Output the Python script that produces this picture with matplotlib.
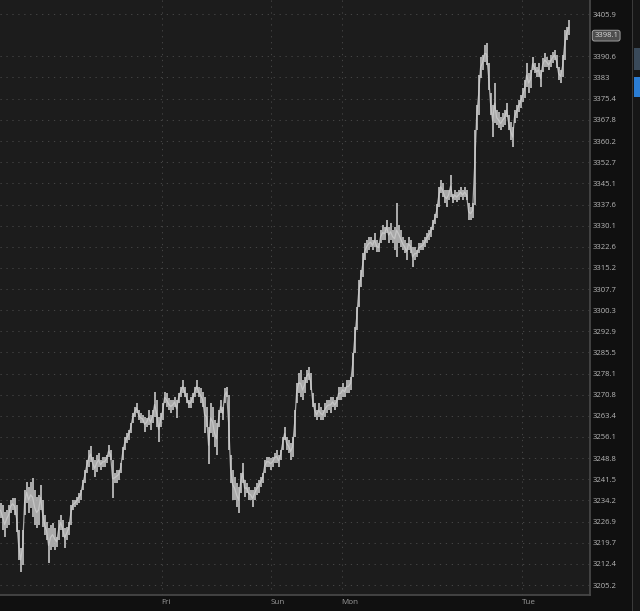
import numpy as np
import matplotlib
matplotlib.use('Agg')
import matplotlib.pyplot as plt
from matplotlib.patches import Rectangle
from matplotlib.ticker import NullLocator

plt.rcParams['font.family'] = ['Open Sans', 'DejaVu Sans']

# price bars (high / low), one every bar step
highs = [
    3233.3, 3232.6, 3230.2, 3230.9, 3232.6, 3234.4, 3235.1, 3235.1, 3232.6, 3224.0,
    3218.0, 3224.0, 3237.8, 3240.6, 3238.8, 3240.6, 3242.0, 3237.8, 3235.4, 3236.1,
    3239.5, 3234.4, 3229.2, 3226.8, 3224.7, 3225.7, 3226.5, 3224.7, 3221.6, 3227.5,
    3229.2, 3227.5, 3224.7, 3225.0, 3226.8, 3232.6, 3234.4, 3234.4, 3235.4, 3236.8,
    3237.8, 3241.3, 3244.8, 3248.2, 3251.6, 3252.9, 3249.2, 3248.2, 3249.9, 3250.6,
    3248.2, 3249.2, 3249.2, 3249.9, 3253.3, 3251.6, 3248.2, 3243.7, 3244.8, 3244.8,
    3247.2, 3252.6, 3256.1, 3257.3, 3258.6, 3261.0, 3264.4, 3266.5, 3267.9, 3265.4,
    3264.4, 3263.7, 3263.0, 3262.7, 3265.4, 3263.7, 3265.4, 3271.7, 3268.9, 3263.0,
    3264.4, 3267.9, 3271.7, 3271.4, 3269.6, 3268.9, 3268.9, 3270.0, 3268.9, 3271.4,
    3273.5, 3275.9, 3273.5, 3271.4, 3268.9, 3270.0, 3271.4, 3273.5, 3275.9, 3273.5,
    3273.1, 3271.7, 3270.0, 3266.5, 3259.6, 3267.9, 3266.5, 3262.0, 3261.0, 3265.4,
    3268.9, 3266.5, 3273.1, 3273.5, 3270.7, 3249.9, 3244.8, 3242.3, 3240.2, 3238.8,
    3243.7, 3247.2, 3241.3, 3240.2, 3238.8, 3237.8, 3237.8, 3238.8, 3240.2, 3241.3,
    3242.3, 3243.7, 3248.2, 3249.2, 3249.2, 3248.9, 3249.2, 3250.6, 3251.6, 3249.9,
    3251.6, 3256.1, 3259.6, 3256.1, 3255.1, 3254.0, 3256.1, 3265.4, 3274.9, 3278.3,
    3279.4, 3275.9, 3277.0, 3279.4, 3280.4, 3278.3, 3271.4, 3267.9, 3265.4, 3267.9,
    3266.5, 3265.4, 3267.9, 3268.9, 3268.9, 3270.0, 3270.0, 3268.9, 3270.0, 3273.5,
    3273.5, 3274.9, 3273.5, 3275.9, 3275.9, 3277.0, 3285.3, 3294.4, 3301.3, 3310.9,
    3314.4, 3320.4, 3323.9, 3324.9, 3326.0, 3326.0, 3324.9, 3327.4, 3324.9, 3323.9,
    3328.5, 3330.3, 3329.6, 3332.0, 3329.6, 3331.0, 3328.5, 3329.6, 3338.1, 3330.3,
    3328.5, 3326.0, 3324.9, 3323.9, 3326.0, 3324.9, 3322.5, 3322.5, 3321.4, 3323.9,
    3323.9, 3324.9, 3326.0, 3327.4, 3328.5, 3329.6, 3332.0, 3334.2, 3337.8, 3343.8,
    3346.3, 3345.2, 3342.7, 3342.7, 3342.7, 3348.1, 3341.4, 3342.7, 3342.0, 3342.7,
    3343.8, 3342.7, 3343.8, 3342.7, 3338.1, 3336.7, 3338.1, 3364.1, 3373.1, 3383.9,
    3390.4, 3391.1, 3394.7, 3395.4, 3388.2, 3377.4, 3373.1, 3381.0, 3371.3, 3370.6,
    3368.8, 3370.2, 3371.3, 3373.8, 3369.5, 3367.0, 3365.2, 3371.3, 3373.1, 3374.9,
    3376.7, 3379.2, 3382.1, 3388.2, 3384.6, 3385.7, 3390.4, 3388.2, 3386.8, 3388.2,
    3385.7, 3390.0, 3391.8, 3390.4, 3389.3, 3391.1, 3392.2, 3392.9, 3391.1, 3386.8,
    3385.7, 3391.1, 3400.1, 3401.2, 3403.7,
]
lows = [
    3228.2, 3224.0, 3221.6, 3224.7, 3225.7, 3229.9, 3230.9, 3229.2, 3223.3, 3213.9,
    3209.6, 3212.0, 3229.2, 3233.3, 3229.9, 3231.6, 3228.5, 3225.7, 3224.7, 3225.7,
    3230.9, 3225.0, 3222.3, 3220.7, 3212.7, 3217.3, 3218.3, 3217.3, 3218.3, 3220.7,
    3224.0, 3221.6, 3218.0, 3220.7, 3222.3, 3225.7, 3230.9, 3231.9, 3232.6, 3233.3,
    3234.4, 3237.8, 3240.2, 3243.7, 3245.8, 3247.5, 3244.8, 3242.3, 3244.1, 3245.8,
    3244.8, 3245.8, 3245.8, 3247.2, 3249.2, 3248.2, 3235.1, 3240.2, 3240.2, 3241.3,
    3243.7, 3248.2, 3251.6, 3254.0, 3255.1, 3257.3, 3261.0, 3263.0, 3264.4, 3262.0,
    3261.0, 3261.0, 3257.9, 3259.6, 3260.3, 3258.6, 3261.0, 3263.0, 3259.6, 3254.4,
    3259.6, 3262.0, 3267.9, 3266.5, 3265.4, 3264.4, 3265.4, 3266.5, 3262.7, 3267.9,
    3270.0, 3271.4, 3270.0, 3267.9, 3266.1, 3266.1, 3267.9, 3270.0, 3271.4, 3270.0,
    3267.9, 3266.5, 3257.5, 3259.6, 3246.8, 3257.5, 3256.1, 3252.6, 3249.9, 3259.6,
    3264.4, 3262.0, 3267.9, 3270.0, 3251.6, 3240.2, 3234.4, 3234.4, 3231.9, 3229.9,
    3236.8, 3240.2, 3235.4, 3236.8, 3234.4, 3234.4, 3231.9, 3234.4, 3236.1, 3236.8,
    3238.8, 3240.2, 3243.7, 3245.8, 3245.8, 3244.8, 3245.8, 3247.2, 3247.2, 3245.8,
    3248.2, 3251.6, 3255.1, 3251.6, 3250.6, 3248.2, 3249.2, 3256.1, 3267.9, 3271.4,
    3270.0, 3268.9, 3271.4, 3274.9, 3275.9, 3272.4, 3266.5, 3263.0, 3262.0, 3263.0,
    3262.0, 3262.0, 3263.0, 3264.4, 3265.4, 3264.4, 3266.5, 3265.4, 3266.5, 3268.9,
    3268.9, 3270.0, 3270.0, 3271.4, 3271.4, 3272.4, 3277.0, 3285.3, 3293.3, 3301.3,
    3308.4, 3312.0, 3317.9, 3320.4, 3321.4, 3322.5, 3321.4, 3322.5, 3320.7, 3320.7,
    3323.9, 3324.9, 3324.9, 3327.4, 3323.9, 3324.9, 3323.9, 3321.4, 3318.9, 3323.9,
    3322.5, 3321.4, 3320.4, 3317.9, 3321.4, 3320.4, 3315.5, 3317.9, 3319.0, 3320.4,
    3321.4, 3321.4, 3322.5, 3323.9, 3324.9, 3326.0, 3328.5, 3330.7, 3332.7, 3336.7,
    3341.6, 3340.2, 3338.1, 3336.7, 3339.2, 3340.2, 3338.1, 3339.2, 3338.5, 3339.2,
    3340.2, 3339.2, 3340.2, 3339.2, 3332.0, 3332.0, 3332.7, 3337.4, 3364.1, 3369.5,
    3382.8, 3385.7, 3388.6, 3387.5, 3378.5, 3369.5, 3361.6, 3366.6, 3365.9, 3364.8,
    3364.1, 3365.2, 3365.9, 3368.8, 3364.1, 3360.5, 3358.0, 3366.6, 3368.4, 3370.6,
    3372.0, 3374.2, 3375.6, 3379.6, 3377.4, 3379.2, 3385.7, 3384.6, 3383.2, 3383.2,
    3379.6, 3385.0, 3386.8, 3386.8, 3385.7, 3386.8, 3388.2, 3389.3, 3386.4, 3382.1,
    3381.0, 3383.2, 3389.3, 3396.5, 3398.3,
]
last_price = 3398.1

# right axis ticks
tick_vals = [3405.9, 3390.6, 3383.0, 3375.4, 3367.8, 3360.2, 3352.7, 3345.1,
             3337.6, 3330.1, 3322.6, 3315.2, 3307.7, 3300.3, 3292.9, 3285.5,
             3278.1, 3270.8, 3263.4, 3256.1, 3248.8, 3241.5, 3234.2, 3226.9,
             3219.7, 3212.4, 3205.2]
tick_labels = ['3405.9', '3390.6', '3383', '3375.4', '3367.8', '3360.2', '3352.7',
               '3345.1', '3337.6', '3330.1', '3322.6', '3315.2', '3307.7', '3300.3',
               '3292.9', '3285.5', '3278.1', '3270.8', '3263.4', '3256.1', '3248.8',
               '3241.5', '3234.2', '3226.9', '3219.7', '3212.4', '3205.2']

# session boundaries (bar index)
day_names = ['Fri', 'Sun', 'Mon', 'Tue']
day_bars = [80.5, 135, 170.5, 260.5]

W, H = 640, 611
fig = plt.figure(figsize=(W / 100, H / 100), dpi=100)
fig.patch.set_facecolor('#101010')

ax = fig.add_axes([0, 16 / H, 590 / W, 595 / H])
ax.set_facecolor('#1c1c1c')

x = np.arange(len(highs))
hi = np.array(highs)
lo = np.array(lows)
ax.plot(x, (hi + lo) / 2, color='#a8a8a8', lw=0.9, zorder=3)
ax.vlines(x, lo, hi, color='#cdcdcd', lw=1.15, zorder=4)

ax.set_yscale('log')
ax.set_ylim(3201.8, 3411.0)
ax.set_xlim(-0.3, 294.7)

ax.yaxis.tick_right()
ax.set_yticks(tick_vals)
ax.set_yticklabels(tick_labels)
ax.yaxis.set_minor_locator(NullLocator())
ax.set_xticks(day_bars)
ax.set_xticklabels(day_names)
ax.xaxis.set_minor_locator(NullLocator())
for lab in ax.get_xticklabels():
    lab.set_horizontalalignment('left')

ax.tick_params(axis='y', length=0, pad=2, labelsize=5.5, labelcolor='#b8b8b8')
ax.tick_params(axis='x', length=0, pad=3, labelsize=5.8, labelcolor='#9a9a9a')

ax.grid(True, color='#444444', lw=0.75, linestyle=(0, (1.2, 4.5)))
ax.set_axisbelow(True)

for side in ['left', 'top']:
    ax.spines[side].set_visible(False)
for side in ['right', 'bottom']:
    ax.spines[side].set_color('#4a4a4a')
    ax.spines[side].set_linewidth(1.2)

# last price tag
ax.annotate(f'{last_price:.1f}', xy=(1.0, last_price), xycoords=('axes fraction', 'data'),
            xytext=(3, 0), textcoords='offset points', ha='left', va='center',
            fontsize=5.5, color='#dcdcdc',
            bbox=dict(boxstyle='round,pad=0.25,rounding_size=0.3', fc='#4e4e4e',
                      ec='#b0b0b0', lw=0.6),
            annotation_clip=False)

# right edge panel strip
fig.add_artist(Rectangle((632 / W, 0), 8 / W, 1, transform=fig.transFigure,
                         color='#161616', lw=0))
fig.add_artist(Rectangle((632 / W, 0), 1.2 / W, 1, transform=fig.transFigure,
                         color='#3a3a3a', lw=0))
fig.add_artist(Rectangle((634 / W, 1 - 97 / H), 6 / W, 20 / H, transform=fig.transFigure,
                         color='#2b7dd4', lw=0))
fig.add_artist(Rectangle((634 / W, 1 - 70 / H), 6 / W, 22 / H, transform=fig.transFigure,
                         color='#3a4a5a', lw=0))

fig.savefig('out.png', dpi=100, facecolor=fig.get_facecolor())
